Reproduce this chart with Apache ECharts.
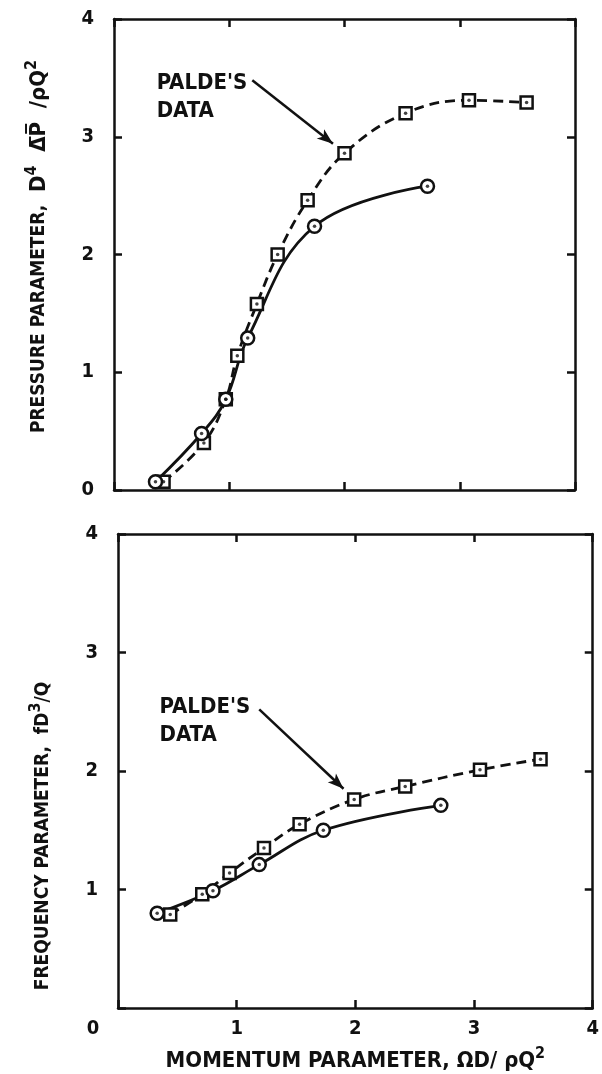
<!DOCTYPE html>
<html>
<head>
<meta charset="utf-8">
<script src="https://cdn.jsdelivr.net/npm/echarts@6/dist/echarts.min.js"></script>
<style>
  html, body { margin: 0; padding: 0; background: #fff; }
  #chart { width: 602px; height: 1074px; }
</style>
</head>
<body>
<div id="chart"></div>
<script>
// pressure panel (top)
const pressTest = [[0.36, 0.07], [0.76, 0.48], [0.97, 0.77], [1.16, 1.29], [1.74, 2.24], [2.72, 2.58]]
const pressPalde = [[0.43, 0.07], [0.78, 0.40], [0.97, 0.77], [1.07, 1.14], [1.24, 1.58], [1.42, 2.00],
  [1.68, 2.46], [2.00, 2.86], [2.53, 3.20], [3.08, 3.31], [3.58, 3.29]]
// frequency panel (bottom)
const freqTest = [[0.33, 0.80], [0.80, 0.99], [1.19, 1.21], [1.73, 1.50], [2.72, 1.71]]
const freqPalde = [[0.44, 0.79], [0.71, 0.96], [0.94, 1.14], [1.23, 1.35], [1.53, 1.55], [1.99, 1.76],
  [2.42, 1.87], [3.05, 2.01], [3.56, 2.10]]
// annotation: text anchor, arrow start, arrow end (data units)
const pressNote = { text: [0.37, 3.57], from: [1.20, 3.48], to: [1.90, 2.94] }
const freqNote = { text: [0.35, 2.66], from: [1.19, 2.52], to: [1.90, 1.85] }
const ticks = [0, 1, 2, 3, 4]

const FONT = 'DejaVu Sans Condensed'
const ink = '#111'

function boxAxis(grid, pos, extra) {
  return Object.assign({
    gridIndex: grid, type: 'value', position: pos, min: ticks[0], max: ticks[ticks.length - 1], interval: 1,
    axisLine: { show: true, onZero: false, lineStyle: { color: ink, width: 2.5 } },
    axisTick: { show: true, inside: true, length: 8, lineStyle: { color: ink, width: 2.5 } },
    axisLabel: { show: false },
    splitLine: { show: false },
  }, extra)
}

const tickLabel = {
  show: true, color: ink, fontFamily: FONT, fontWeight: 'bold', fontSize: 20,
}
const supStyle = { fontFamily: FONT, fontWeight: 'bold', fontSize: 16, color: ink, padding: [0, 0, 14, 0] }
const bigStyle = { fontFamily: FONT, fontWeight: 'bold', fontSize: 22, color: ink }

function curve(x, y, data, dashed, symbol) {
  return {
    type: 'line', xAxisIndex: x, yAxisIndex: y, data: data,
    smooth: 0.4, symbol: symbol, symbolSize: symbol === 'rect' ? 12 : 13,
    lineStyle: { color: ink, width: 2.8, type: dashed ? [10, 6] : 'solid' },
    itemStyle: { color: '#fff', borderColor: ink, borderWidth: 2.5 },
    z: 3,
  }
}

function dots(x, y, data) {
  return {
    type: 'scatter', xAxisIndex: x, yAxisIndex: y, data: data,
    symbol: 'circle', symbolSize: 3.5, itemStyle: { color: ink }, z: 5, silent: true,
  }
}

function note(x, y, n) {
  return {
    type: 'line', xAxisIndex: x, yAxisIndex: y, data: [], silent: true, z: 6,
    markLine: {
      silent: true, animation: false,
      symbol: ['none', 'arrow'], symbolSize: [9, 16],
      lineStyle: { color: ink, width: 2.5, type: 'solid' },
      label: { show: false },
      data: [[{ coord: n.from }, { coord: n.to }]],
    },
    markPoint: {
      silent: true, symbol: 'circle', symbolSize: 0,
      label: {
        show: true, position: 'inside', align: 'left', verticalAlign: 'top',
        formatter: "PALDE'S\nDATA", color: ink, fontFamily: FONT, fontWeight: 'bold',
        fontSize: 22, lineHeight: 28,
      },
      data: [{ coord: n.text }],
    },
  }
}

const chart = echarts.init(document.getElementById('chart'))
chart.setOption({
  backgroundColor: '#fff',
  animation: false,
  grid: [
    { left: 114, right: 27, top: 19, height: 471 },
    { left: 118, right: 7, top: 534, height: 474 },
  ],
  xAxis: [
    boxAxis(0, 'bottom'),
    boxAxis(0, 'top'),
    boxAxis(1, 'bottom', {
      axisLabel: Object.assign({}, tickLabel, {
        margin: 11,
        formatter: v => v === 0 ? '{l|0}' : String(v),
        rich: {
          l: { fontFamily: FONT, fontWeight: 'bold', fontSize: 20, color: ink, padding: [0, 50, 0, 0] },
        },
      }),
      name: 'MOMENTUM PARAMETER, \u03A9D/ \u03C1Q{s|2}', nameLocation: 'middle', nameGap: 38,
      nameTextStyle: {
        color: ink, fontFamily: FONT, fontWeight: 'bold', fontSize: 22,
        rich: { s: supStyle },
      },
    }),
    boxAxis(1, 'top'),
  ],
  yAxis: [
    boxAxis(0, 'left', {
      axisLabel: Object.assign({}, tickLabel, { margin: 20 }),
      name: 'PRESSURE PARAMETER, {b| D}{s|4}{b|  \u0394\u0305P\u0305  /\u03C1Q}{s|2}',
      nameLocation: 'middle', nameGap: 60,
      nameTextStyle: {
        color: ink, fontFamily: FONT, fontWeight: 'bold', fontSize: 19,
        padding: [0, 0, 0, 16],
        rich: { s: supStyle, b: bigStyle },
      },
    }),
    boxAxis(0, 'right'),
    boxAxis(1, 'left', {
      axisLabel: Object.assign({}, tickLabel, { margin: 20, formatter: v => v === 0 ? '' : String(v) }),
      name: 'FREQUENCY PARAMETER,  fD{s|3}/Q', nameLocation: 'middle', nameGap: 60,
      nameTextStyle: {
        color: ink, fontFamily: FONT, fontWeight: 'bold', fontSize: 19,
        padding: [0, 130, 0, 0],
        rich: { s: supStyle },
      },
    }),
    boxAxis(1, 'right'),
  ],
  series: [
    curve(0, 0, pressPalde, true, 'rect'),
    curve(0, 0, pressTest, false, 'circle'),
    dots(0, 0, pressPalde),
    dots(0, 0, pressTest),
    note(0, 0, pressNote),
    curve(2, 2, freqPalde, true, 'rect'),
    curve(2, 2, freqTest, false, 'circle'),
    dots(2, 2, freqPalde),
    dots(2, 2, freqTest),
    note(2, 2, freqNote),
  ],
})
</script>
</body>
</html>
